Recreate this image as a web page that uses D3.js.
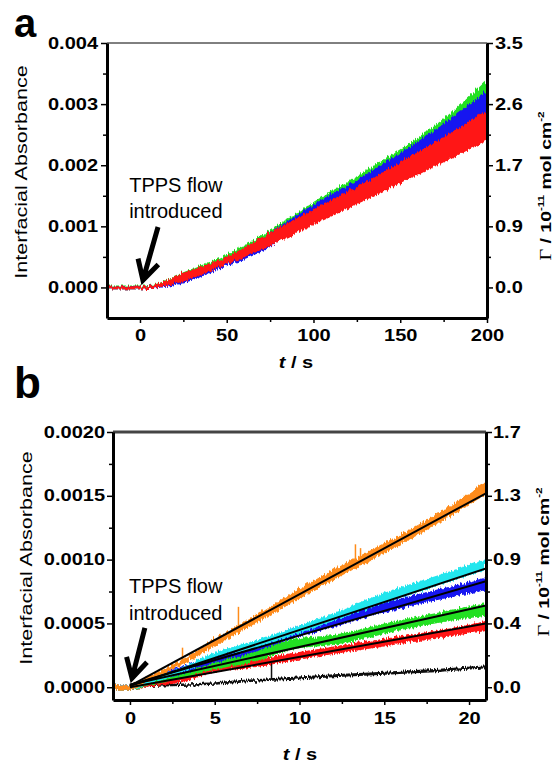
<!DOCTYPE html>
<html>
<head>
<meta charset="utf-8">
<script src="https://cdn.jsdelivr.net/npm/d3@7"></script>
<style>
  body { margin: 0; background: #fff; }
  svg { display: block; }
  text { font-family: "Liberation Sans", Arial, sans-serif; }
</style>
</head>
<body>
<svg id="chart" width="557" height="763"></svg>
<script>
const tA = [-19, 0, 6, 25, 50, 75, 100, 125, 150, 175, 200];
const greenLoA = [-0.00003, -0.00003, 0.0, 0.00013, 0.00042, 0.0008, 0.00122, 0.0016, 0.00203, 0.00248, 0.0030];
const greenHiA = [0.00003, 0.00003, 0.00004, 0.00025, 0.00054, 0.00094, 0.0014, 0.00182, 0.00226, 0.00276, 0.0034];
const blueLoA = [-0.00003, -0.00003, -0.00002, 0.00007, 0.00035, 0.00066, 0.00118, 0.00156, 0.00198, 0.00242, 0.00285];
const blueHiA = [0.00002, 0.00002, 0.00003, 0.0002, 0.00048, 0.0009, 0.00136, 0.00176, 0.0022, 0.00268, 0.00322];
const redLoA = [-0.00003, -0.00003, -0.00002, 0.0001, 0.00038, 0.00068, 0.00102, 0.00136, 0.0017, 0.00205, 0.0024];
const redHiA = [0.00002, 0.00002, 0.00003, 0.00024, 0.0005, 0.0009, 0.00128, 0.00165, 0.00205, 0.00246, 0.0029];

const xTicksA = [0, 50, 100, 150, 200];
const yTicksA = [0, 0.001, 0.002, 0.003, 0.004];
const gammaLabelsA = ['0.0', '0.9', '1.7', '2.6', '3.5'];

// ---- panel b: trace middles and half-widths, plus the fitted lines ----
const tB = [-1, 0, 1, 3, 5, 7, 9.7, 12, 15, 18, 21];
const orangeMid = [0, 0, 0.00006, 0.00019, 0.00035, 0.0005, 0.00071, 0.00088, 0.00109, 0.00131, 0.00156];
const orangeSpread = [0.00002, 0.00002, 0.00002, 0.00002, 0.00003, 0.00003, 0.00004, 0.00004, 0.00004, 0.00004, 0.00005];
const cyanMid = [0, 0, 0.00004, 0.00013, 0.00025, 0.00032, 0.00044, 0.00055, 0.0007, 0.00083, 0.00096];
const cyanSpread = [0.00002, 0.00002, 0.00002, 0.00002, 0.00002, 0.00003, 0.00003, 0.00003, 0.00004, 0.00004, 0.00004];
const blueMid = [0, 0, 0.00005, 0.00013, 0.00022, 0.00029, 0.00043, 0.00051, 0.000625, 0.00072, 0.00081];
const blueSpread = [0.00002, 0.00002, 0.00002, 0.00003, 0.00003, 0.00003, 0.00004, 0.00004, 0.00004, 0.00004, 0.00005];
const greenMid = [0, 0, 0.00003, 0.0001, 0.00017, 0.00023, 0.00034, 0.00037, 0.00046, 0.00054, 0.00061];
const greenSpread = [0.00002, 0.00002, 0.00002, 0.00003, 0.00003, 0.00004, 0.00004, 0.00004, 0.00004, 0.00004, 0.00005];
const redMid = [0, 0, 0.00002, 0.00006, 0.00015, 0.00018, 0.00024, 0.00029, 0.00035, 0.00041, 0.00048];
const redSpread = [0.00002, 0.00002, 0.00002, 0.00002, 0.00003, 0.00003, 0.00003, 0.00003, 0.00003, 0.00003, 0.00004];
const blackMid = [0, 0, 0.00001, 0.00002, 0.00003, 0.00005, 0.00007, 0.00009, 0.00011, 0.00013, 0.00016];
const blackSpread = [0.00001, 0.00001, 0.00001, 0.00001, 0.00001, 0.00001, 0.000012, 0.000012, 0.000012, 0.000012, 0.000012];

const orangeSpikes = [[3.1, 0.00031], [6.4, 0.00063], [13.3, 0.00112], [13.6, 0.00109]];
const blackSpikes = [[8.35, 0.0002]];

// fitted lines, value at t = 0 and at t = 21 (orange, cyan, blue, green, red)
const fitStartB = [0.00001, 0.00001, 0.00002, 0.00002, 0.0];
const fitEndB = [0.00152, 0.00093, 0.00083, 0.00064, 0.0005];

const xTicksB = [0, 5, 10, 15, 20];
const yTicksB = [0, 0.0005, 0.001, 0.0015, 0.002];
const gammaLabelsB = ['0.0', '0.4', '0.9', '1.3', '1.7'];

const colors = {
  green: '#22e022', blue: '#1414f0', red: '#ff1212',
  orange: '#ff8c1a', cyan: '#22e6ee', black: '#111'
};

const svg = d3.select('#chart');
const SX = 1.25; // the figure's lettering is drawn wide

// noisy texture for the traces
const defs = svg.append('defs');
const noise = defs.append('filter').attr('id', 'jitter')
  .attr('x', '-5%').attr('y', '-20%').attr('width', '110%').attr('height', '140%');
noise.append('feTurbulence').attr('type', 'fractalNoise')
  .attr('baseFrequency', '0.7 0.04').attr('numOctaves', 2).attr('seed', 3).attr('result', 'n');
noise.append('feDisplacementMap').attr('in', 'SourceGraphic').attr('in2', 'n')
  .attr('scale', 6).attr('xChannelSelector', 'R').attr('yChannelSelector', 'G');

function widen(sel) {
  sel.each(function() {
    const t = d3.select(this);
    const x = +t.attr('x') || 0;
    t.attr('x', x / SX).attr('transform', `scale(${SX},1)`);
  });
}

function styleAxis(g, width) {
  g.select('.domain').attr('stroke-width', width);
  g.selectAll('.tick line').attr('stroke-width', 1.5);
  g.selectAll('text').attr('font-size', 16).attr('font-weight', 'bold').attr('fill', '#000');
  widen(g.selectAll('text'));
}

function drawBand(g, x, y, t, lo, hi, color) {
  const rows = t.map((d, i) => ({ t: d, lo: lo[i], hi: hi[i] }));
  g.append('path')
    .datum(rows)
    .attr('d', d3.area().x(d => x(d.t)).y0(d => y(d.lo)).y1(d => y(d.hi)).curve(d3.curveMonotoneX))
    .attr('fill', color)
    .attr('filter', 'url(#jitter)');
}

function yLabel(x, y, fs) {
  svg.append('text')
    .attr('transform', `translate(${x},${y}) rotate(-90) scale(1.35,1)`)
    .attr('text-anchor', 'middle').attr('font-size', fs)
    .text('Interfacial Absorbance');
}

function gammaLabel(x, y, fs) {
  const t = svg.append('text')
    .attr('transform', `translate(${x},${y}) rotate(-90) scale(${SX},1)`)
    .attr('text-anchor', 'middle').attr('font-size', fs).attr('font-weight', 'bold');
  t.append('tspan').attr('font-family', '"Liberation Serif", serif').attr('font-weight', 'normal')
    .attr('font-size', fs * 1.05).text('Γ');
  t.append('tspan').text(' / 10');
  t.append('tspan').attr('font-size', fs * 0.6).attr('dy', -fs * 0.45).text('-11');
  t.append('tspan').attr('dy', fs * 0.45).text(' mol cm');
  t.append('tspan').attr('font-size', fs * 0.6).attr('dy', -fs * 0.45).text('-2');
}

function tLabel(x, y) {
  const t = svg.append('text')
    .attr('transform', `translate(${x},${y}) scale(${SX},1)`)
    .attr('text-anchor', 'middle').attr('font-size', 16).attr('font-weight', 'bold');
  t.append('tspan').attr('font-style', 'italic').text('t');
  t.append('tspan').text(' / s');
}

function annotate(x, y, textT, line1Y, line2Y, tail, tip) {
  [['TPPS flow', line1Y], ['introduced', line2Y]].forEach(([s, v]) => {
    svg.append('text')
      .attr('x', x(textT)).attr('y', y(v))
      .attr('text-anchor', 'middle')
      .attr('font-family', '"Open Sans", sans-serif')
      .attr('font-size', 20)
      .text(s);
  });
  const x0 = x(tail[0]), y0 = y(tail[1]), x1 = x(tip[0]), y1 = y(tip[1]);
  const ang = Math.atan2(y1 - y0, x1 - x0);
  const len = 22, spread = 0.5;
  const w1 = [x1 - len * Math.cos(ang - spread), y1 - len * Math.sin(ang - spread)];
  const w2 = [x1 - len * Math.cos(ang + spread), y1 - len * Math.sin(ang + spread)];
  svg.append('path')
    .attr('d', `M${x0},${y0}L${x1 - 3 * Math.cos(ang)},${y1 - 3 * Math.sin(ang)}M${w1[0]},${w1[1]}L${x1},${y1}L${w2[0]},${w2[1]}`)
    .attr('fill', 'none').attr('stroke', '#000').attr('stroke-width', 5)
    .attr('stroke-linejoin', 'miter').attr('stroke-linecap', 'butt');
}

// ================= panel a =================
const xA = d3.scaleLinear().domain([-19, 200]).range([107, 487]);
const yA = d3.scaleLinear().domain([-0.0005, 0.004]).range([318, 43]);

defs.append('clipPath').attr('id', 'clipA').append('rect')
  .attr('x', 107).attr('y', 43).attr('width', 380).attr('height', 275);
const plotA = svg.append('g').attr('clip-path', 'url(#clipA)');
drawBand(plotA, xA, yA, tA, greenLoA, greenHiA, colors.green);
drawBand(plotA, xA, yA, tA, blueLoA, blueHiA, colors.blue);
drawBand(plotA, xA, yA, tA, redLoA, redHiA, colors.red);

svg.append('line').attr('x1', 107).attr('x2', 487).attr('y1', 43).attr('y2', 43)
  .attr('stroke', '#000').attr('stroke-width', 1);

const axA = [
  svg.append('g').attr('transform', 'translate(0,318)')
    .call(d3.axisBottom(xA).tickValues(xTicksA).tickSize(5).tickPadding(7).tickSizeOuter(0)),
  svg.append('g').attr('transform', 'translate(107,0)')
    .call(d3.axisLeft(yA).tickValues(yTicksA).tickFormat(d3.format('.3f')).tickSize(6).tickPadding(3).tickSizeOuter(0)),
  svg.append('g').attr('transform', 'translate(487,0)')
    .call(d3.axisRight(yA).tickValues(yTicksA).tickFormat((d, i) => gammaLabelsA[i]).tickSize(6).tickPadding(2).tickSizeOuter(0))
];
axA.forEach(g => styleAxis(g, 3));
svg.append('g').attr('transform', 'translate(0,318)')
  .call(d3.axisBottom(xA).tickValues([25, 75, 125, 175]).tickFormat('').tickSize(4).tickSizeOuter(0))
  .call(g => g.select('.domain').remove()).selectAll('line').attr('stroke-width', 1.5);
svg.append('g').attr('transform', 'translate(107,0)')
  .call(d3.axisLeft(yA).tickValues([0.0005, 0.0015, 0.0025, 0.0035]).tickFormat('').tickSize(4).tickSizeOuter(0))
  .call(g => g.select('.domain').remove()).selectAll('line').attr('stroke-width', 1.5);
svg.append('g').attr('transform', 'translate(487,0)')
  .call(d3.axisRight(yA).tickValues([0.0005, 0.0015, 0.0025, 0.0035]).tickFormat('').tickSize(4).tickSizeOuter(0))
  .call(g => g.select('.domain').remove()).selectAll('line').attr('stroke-width', 1.5);

yLabel(27, 172, 16);
gammaLabel(551, 186, 15.5);
tLabel(296, 368);
annotate(xA, yA, 20.7, 0.00156, 0.00114, [10.4, 0.00099], [1.7, 0.00012]);

svg.append('text').attr('x', 14).attr('y', 37).attr('font-size', 40).attr('font-weight', 'bold').text('a');

// ================= panel b =================
const xB = d3.scaleLinear().domain([-1, 21]).range([113, 486]);
const yB = d3.scaleLinear().domain([-0.0001, 0.002]).range([700, 432]);

defs.append('clipPath').attr('id', 'clipB').append('rect')
  .attr('x', 113).attr('y', 432).attr('width', 373).attr('height', 268);
const plotB = svg.append('g').attr('clip-path', 'url(#clipB)');

const bandsB = [
  [blackMid, blackSpread, colors.black, blackSpikes],
  [redMid, redSpread, colors.red, []],
  [greenMid, greenSpread, colors.green, []],
  [blueMid, blueSpread, colors.blue, []],
  [cyanMid, cyanSpread, colors.cyan, []],
  [orangeMid, orangeSpread, colors.orange, orangeSpikes]
];
bandsB.forEach(([mid, spread, color, spikes]) => {
  drawBand(plotB, xB, yB, tB,
    mid.map((m, i) => m - spread[i]), mid.map((m, i) => m + spread[i]), color);
  const midAt = d3.scaleLinear().domain(tB).range(mid);
  plotB.selectAll(null).data(spikes).join('line')
    .attr('x1', d => xB(d[0])).attr('x2', d => xB(d[0]))
    .attr('y1', d => yB(midAt(d[0]))).attr('y2', d => yB(d[1]))
    .attr('stroke', color).attr('stroke-width', 1.5);
});

plotB.selectAll('.fit').data(fitStartB.map((s, i) => [s, fitEndB[i]])).join('line')
  .attr('class', 'fit')
  .attr('x1', xB(0)).attr('x2', xB(21))
  .attr('y1', d => yB(d[0])).attr('y2', d => yB(d[1]))
  .attr('stroke', '#000').attr('stroke-width', 2);

svg.append('line').attr('x1', 113).attr('x2', 486).attr('y1', 432).attr('y2', 432)
  .attr('stroke', '#444').attr('stroke-width', 3);

const axB = [
  svg.append('g').attr('transform', 'translate(0,700)')
    .call(d3.axisBottom(xB).tickValues(xTicksB).tickSize(5).tickPadding(8).tickSizeOuter(0)),
  svg.append('g').attr('transform', 'translate(113,0)')
    .call(d3.axisLeft(yB).tickValues(yTicksB).tickFormat(d3.format('.4f')).tickSize(6).tickPadding(2).tickSizeOuter(0)),
  svg.append('g').attr('transform', 'translate(486,0)')
    .call(d3.axisRight(yB).tickValues(yTicksB).tickFormat((d, i) => gammaLabelsB[i]).tickSize(6).tickPadding(1).tickSizeOuter(0))
];
axB.forEach(g => styleAxis(g, 3));
svg.append('g').attr('transform', 'translate(0,700)')
  .call(d3.axisBottom(xB).tickValues([2.5, 7.5, 12.5, 17.5]).tickFormat('').tickSize(4).tickSizeOuter(0))
  .call(g => g.select('.domain').remove()).selectAll('line').attr('stroke-width', 1.5);
svg.append('g').attr('transform', 'translate(113,0)')
  .call(d3.axisLeft(yB).tickValues([0.00025, 0.00075, 0.00125, 0.00175]).tickFormat('').tickSize(4).tickSizeOuter(0))
  .call(g => g.select('.domain').remove()).selectAll('line').attr('stroke-width', 1.5);
svg.append('g').attr('transform', 'translate(486,0)')
  .call(d3.axisRight(yB).tickValues([0.00025, 0.00075, 0.00125, 0.00175]).tickFormat('').tickSize(4).tickSizeOuter(0))
  .call(g => g.select('.domain').remove()).selectAll('line').attr('stroke-width', 1.5);

yLabel(32, 558, 16);
gammaLabel(549, 562, 15.5);
tLabel(300, 760);
annotate(xB, yB, 2.7, 0.000738, 0.000527, [0.88, 0.000465], [0.12, 0.00007]);

svg.append('text').attr('x', 14).attr('y', 398).attr('font-size', 44).attr('font-weight', 'bold').text('b');
</script>
</body>
</html>
